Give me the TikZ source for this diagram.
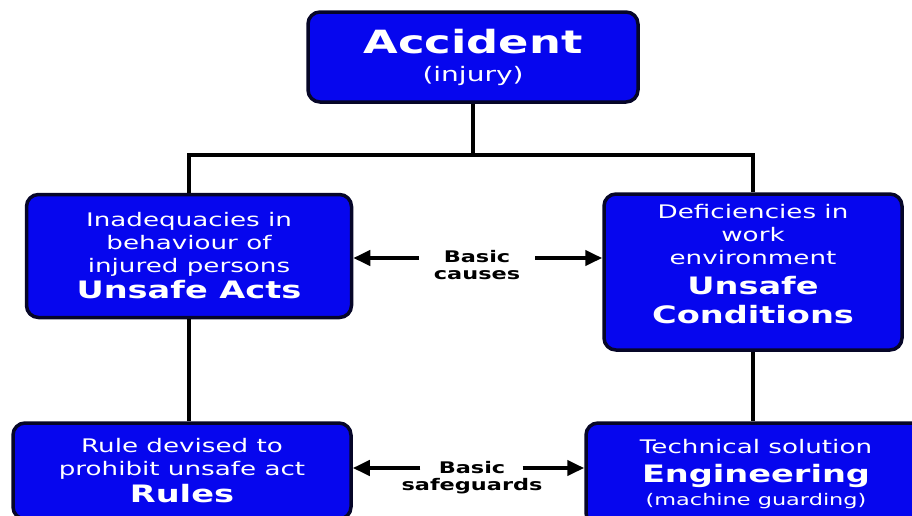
\documentclass[tikz,border=0pt]{standalone}
\usepackage{fontspec}
\setmainfont{DejaVu Sans}[FakeStretch=1.4]
\usetikzlibrary{arrows.meta}
\definecolor{boxblue}{RGB}{6,6,238}
\definecolor{boxrim}{RGB}{6,6,40}
\newcommand{\headfont}{\bfseries\fontsize{24}{29}\selectfont}

\begin{document}
\begin{tikzpicture}[x=1pt,y=-1pt,
  box/.style={draw=boxrim,fill=boxblue,line width=3.5pt,rounded corners=12pt,
    text=white,align=center,inner sep=0pt,font=\fontsize{18.7}{23}\selectfont},
  link/.style={line width=4pt},
  arr/.style={line width=4pt,-{Triangle[length=17pt,width=15pt]}},
  cue/.style={align=center,inner xsep=15pt,font=\bfseries\fontsize{16}{17}\selectfont}]
\useasboundingbox (0,0) rectangle (912,515);
\clip (0,0) rectangle (912,515);

% top
\node[box,minimum width=330pt,minimum height=90pt] (acc) at (473,57)
  {{\bfseries\fontsize{32}{34}\selectfont Accident}\\[5pt]{\fontsize{20}{24}\selectfont (injury)}};

% basic causes
\node[box,minimum width=325pt,minimum height=123pt] (acts) at (189,256)
  {Inadequacies in\\behaviour of\\injured persons\\[3pt]{\headfont Unsafe Acts}};
\node[box,minimum width=298pt,minimum height=156pt] (cond) at (753,272)
  {Deficiencies in\\work\\environment\\[7pt]{\headfont Unsafe}\\[6pt]{\headfont Conditions}\\[-7pt]\mbox{}};
\node[cue] (causes) at (477,265) {Basic\\causes};

% basic safeguards
\node[box,minimum width=338pt,minimum height=96pt] (rules) at (182,471)
  {Rule devised to\\prohibit unsafe act\\[4pt]{\headfont Rules}};
\node[box,minimum width=340pt,minimum height=102pt] (eng) at (756,474)
  {Technical solution\\[6pt]{\headfont Engineering}\\{\fontsize{16}{18}\selectfont (machine guarding)}};
\node[cue,inner xsep=0pt] (guards) at (472,478) {Basic\\safeguards};

\coordinate (bar) at (473,155);
\draw[link] (acc.south) -- (bar);
\draw[link] (acts.north) |- (bar) -| (cond.north);
\draw[link] (acts.south) -- (acts.south |- rules.north);
\draw[link] (cond.south) -- (cond.south |- eng.north);

\draw[arr] ([yshift=7pt]causes.west) -- ([yshift=7pt]causes.west -| acts.east);
\draw[arr] ([yshift=7pt]causes.east) -- ([yshift=7pt]causes.east -| cond.west);
\draw[arr] ([xshift=19pt,yshift=10pt]guards.west) -- ([yshift=10pt]guards.west -| rules.east);
\draw[arr] ([xshift=-20pt,yshift=10pt]guards.east) -- ([yshift=10pt]guards.east -| eng.west);
\end{tikzpicture}
\end{document}
